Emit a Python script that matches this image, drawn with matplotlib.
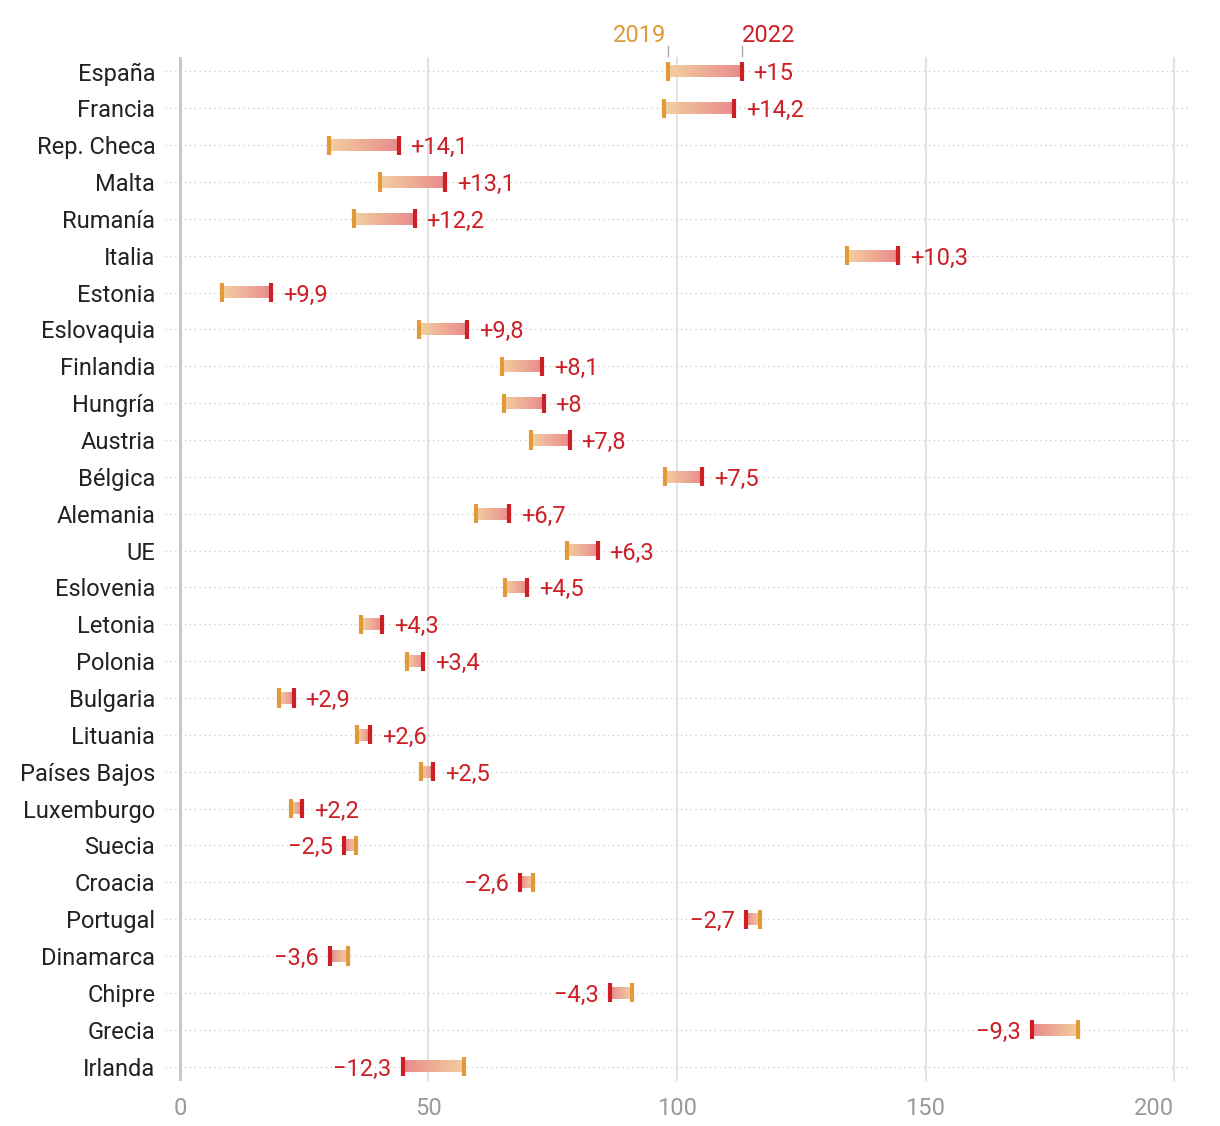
import numpy as np
import matplotlib.pyplot as plt
from matplotlib.colors import LinearSegmentedColormap

plt.rcParams['font.family'] = ['Roboto', 'DejaVu Sans']

paises = ['España', 'Francia', 'Rep. Checa', 'Malta', 'Rumanía', 'Italia', 'Estonia',
          'Eslovaquia', 'Finlandia', 'Hungría', 'Austria', 'Bélgica', 'Alemania', 'UE',
          'Eslovenia', 'Letonia', 'Polonia', 'Bulgaria', 'Lituania', 'Países Bajos',
          'Luxemburgo', 'Suecia', 'Croacia', 'Portugal', 'Dinamarca', 'Chipre', 'Grecia',
          'Irlanda']
v2019 = [98.1, 97.3, 30.0, 40.3, 35.0, 134.2, 8.5, 48.0, 64.8, 65.2, 70.6, 97.6, 59.6, 77.8,
         65.4, 36.4, 45.6, 20.0, 35.7, 48.5, 22.4, 35.5, 71.0, 116.6, 33.8, 90.9, 180.7, 57.1]
v2022 = [113.1, 111.5, 44.1, 53.4, 47.2, 144.5, 18.4, 57.8, 72.9, 73.2, 78.4, 105.1, 66.3, 84.1,
         69.9, 40.7, 49.0, 22.9, 38.3, 51.0, 24.6, 33.0, 68.4, 113.9, 30.2, 86.6, 171.4, 44.8]
dif = ['+15', '+14,2', '+14,1', '+13,1', '+12,2', '+10,3', '+9,9', '+9,8', '+8,1', '+8',
       '+7,8', '+7,5', '+6,7', '+6,3', '+4,5', '+4,3', '+3,4', '+2,9', '+2,6', '+2,5', '+2,2',
       '−2,5', '−2,6', '−2,7', '−3,6', '−4,3', '−9,3', '−12,3']
xticks = [0, 50, 100, 150, 200]

naranja = '#e09a3a'
rojo = '#cc1f26'
cmap = LinearSegmentedColormap.from_list('grad', ['#f3d0a0', '#e88a8c'])
grad = np.linspace(0, 1, 256).reshape(1, -1)

fig = plt.figure(figsize=(12.2, 11.26), dpi=100)
# ejes: x de 165 a 1189 px, y de 56.7 a 1081.3 px
ax = fig.add_axes([165/1220, 1 - 1081.3/1126, 1024/1220, 1024.6/1126])
n = len(paises)
ax.set_xlim(-3, 203)
ax.set_ylim(n - 1 + 0.4, -0.4)

for x in xticks[1:]:
    ax.axvline(x, color='#e3e3e3', lw=1.5, zorder=0)
ax.axvline(0, color='#c4c4c4', lw=2, zorder=1)

for i in range(n):
    ax.axhline(i, color='#cfcfcf', lw=1, ls=(0, (1, 2.5)), zorder=0)
    a, b = v2019[i], v2022[i]
    img = grad if b >= a else grad[:, ::-1]
    ax.imshow(img, cmap=cmap, extent=[min(a, b), max(a, b), i + 0.16, i - 0.16],
              aspect='auto', zorder=2, interpolation='bilinear')
    ax.plot([a, a], [i - 0.26, i + 0.26], color=naranja, lw=3, solid_capstyle='butt', zorder=3)
    ax.plot([b, b], [i - 0.26, i + 0.26], color=rojo, lw=3, solid_capstyle='butt', zorder=3)
    if b >= a:
        ax.text(b + 2.3, i, dif[i], color=rojo, fontsize=17, va='center_baseline', ha='left')
    else:
        ax.text(b - 2.3, i, dif[i], color=rojo, fontsize=17, va='center_baseline', ha='right')

# cabecera 2019 / 2022 sobre la primera fila
ax.plot([v2019[0], v2019[0]], [-0.42, -0.7], color='#aaaaaa', lw=1, clip_on=False)
ax.plot([v2022[0], v2022[0]], [-0.42, -0.7], color='#aaaaaa', lw=1, clip_on=False)
ax.text(v2019[0] - 0.3, -1.05, '2019', color=naranja, fontsize=17, ha='right', va='center_baseline')
ax.text(v2022[0], -1.05, '2022', color=rojo, fontsize=17, ha='left', va='center_baseline')

ax.set_yticks(range(n))
ax.set_yticklabels(paises, fontsize=17, color='#222222', va='center_baseline')
ax.set_xticks(xticks)
labs = ax.set_xticklabels([str(x) for x in xticks], fontsize=17, color='#9a9a9a')
labs[-1].set_ha('right')
ax.tick_params(length=0)
ax.tick_params(axis='y', pad=7)
ax.tick_params(axis='x', pad=11)
for s in ax.spines.values():
    s.set_visible(False)

fig.savefig('out.png', dpi=100)
